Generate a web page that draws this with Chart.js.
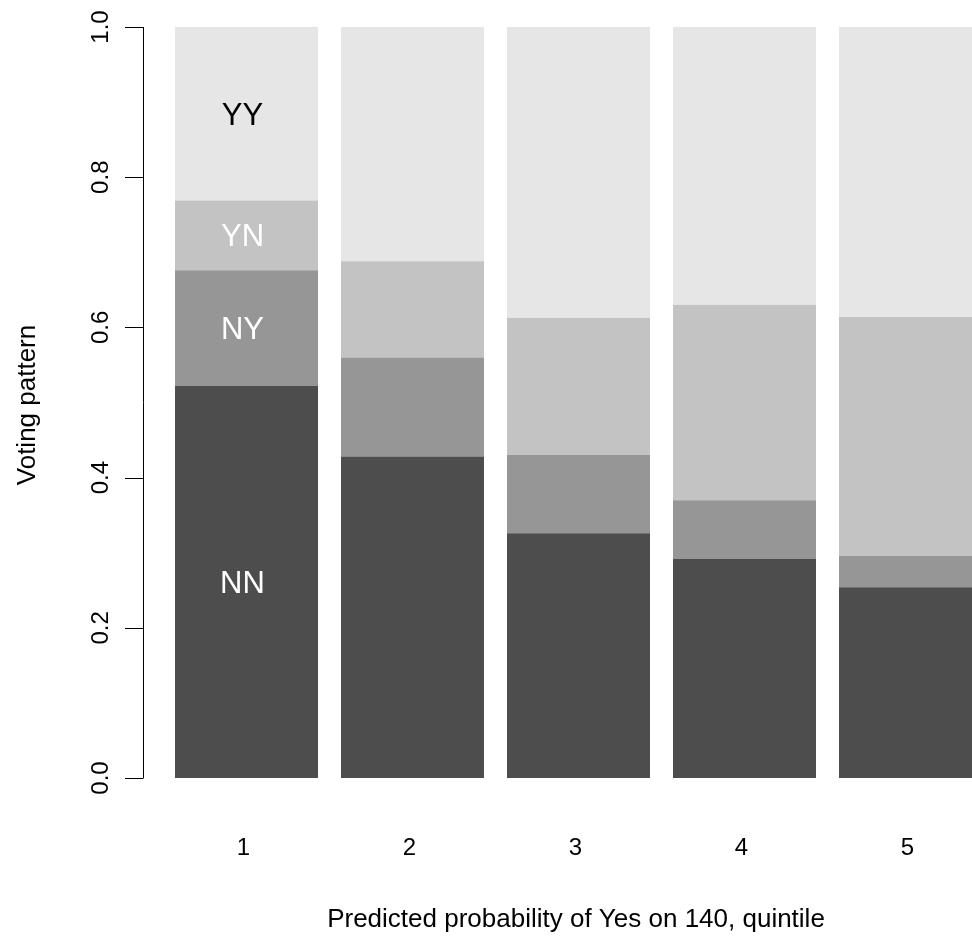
<!DOCTYPE html>
<html>
<head>
<meta charset="utf-8">
<title>Voting pattern by predicted probability quintile</title>
<script src="https://cdn.jsdelivr.net/npm/chart.js@4"></script>
<style>
  html, body { margin: 0; padding: 0; background: #fff; overflow: hidden; }
  #wrap { width: 972px; height: 937px; overflow: hidden; }
  canvas { display: block; }
</style>
</head>
<body>
<div id="wrap">
  <canvas id="chart" width="1000" height="937"></canvas>
</div>
<script>
/* ── Data ── */
const QUINTILES = ['1', '2', '3', '4', '5'];
const PATTERNS  = ['NN', 'NY', 'YN', 'YY'];

// share of each voting pattern within a quintile (stacked from the bottom)
const NN_SHARE = [0.522, 0.428, 0.326, 0.292, 0.254];
const NY_SHARE = [0.154, 0.132, 0.104, 0.078, 0.042];
const YN_SHARE = [0.093, 0.128, 0.183, 0.260, 0.318];
const YY_SHARE = [0.231, 0.312, 0.387, 0.370, 0.386];

const Y_TICKS = [0, 0.2, 0.4, 0.6, 0.8, 1.0];

/* ── Constants ── */
const FILLS       = ['#4d4d4d', '#969696', '#c3c3c3', '#e6e6e6'];
const LABEL_INK   = ['#ffffff', '#ffffff', '#ffffff', '#000000'];
const FONT_FAMILY = '"Liberation Sans", Arial, Helvetica, sans-serif';
const X_TITLE     = 'Predicted probability of Yes on 140, quintile';
const Y_TITLE     = 'Voting pattern';

const SERIES = [NN_SHARE, NY_SHARE, YN_SHARE, YY_SHARE];

/* ── R-style axes, titles and in-bar labels ── */
const baseGraphics = {
  id: 'baseGraphics',
  afterDatasetsDraw(chart) {
    const { ctx, chartArea, scales } = chart;
    const x = scales.x, y = scales.y;
    ctx.save();
    ctx.fillStyle = '#000';
    ctx.strokeStyle = '#000';
    ctx.lineWidth = 1;

    // y axis line + ticks
    const axX = 143.5;
    ctx.beginPath();
    ctx.moveTo(axX, y.getPixelForValue(0));
    ctx.lineTo(axX, y.getPixelForValue(1));
    Y_TICKS.forEach(v => {
      const py = Math.round(y.getPixelForValue(v)) + 0.5;
      ctx.moveTo(axX, py);
      ctx.lineTo(125, py);
    });
    ctx.stroke();

    // y tick labels, rotated
    ctx.font = '24px ' + FONT_FAMILY;
    ctx.textAlign = 'center';
    ctx.textBaseline = 'alphabetic';
    Y_TICKS.forEach(v => {
      ctx.save();
      ctx.translate(108, y.getPixelForValue(v));
      ctx.rotate(-Math.PI / 2);
      ctx.fillText(v.toFixed(1), 0, 0);
      ctx.restore();
    });

    // x category labels
    QUINTILES.forEach((q, i) => {
      ctx.fillText(q, x.getPixelForValue(i) - 3, 855);
    });

    // axis titles
    ctx.font = '26px ' + FONT_FAMILY;
    ctx.fillText(X_TITLE, 576, 927);
    ctx.save();
    ctx.translate(35, 405);
    ctx.rotate(-Math.PI / 2);
    ctx.fillText(Y_TITLE, 0, 0);
    ctx.restore();

    // pattern labels inside the first bar
    ctx.font = '31px ' + FONT_FAMILY;
    let base = 0;
    SERIES.forEach((s, k) => {
      const mid = base + s[0] / 2;
      base += s[0];
      ctx.fillStyle = LABEL_INK[k];
      ctx.fillText(PATTERNS[k], x.getPixelForValue(0) - 4, y.getPixelForValue(mid) + 11);
    });

    ctx.restore();
  },
};

/* ── Chart ── */
new Chart(document.getElementById('chart'), {
  type: 'bar',
  data: {
    labels: QUINTILES,
    datasets: SERIES.map((s, k) => ({
      label:           PATTERNS[k],
      data:            s,
      backgroundColor: FILLS[k],
      borderWidth:     0,
      borderSkipped:   false,
    })),
  },
  options: {
    responsive:         false,
    animation:          false,
    barPercentage:      0.8614,
    categoryPercentage: 1,
    layout: {
      padding: { left: 163.5, right: 6.5, top: 27, bottom: 159 },
    },
    plugins: {
      legend:  { display: false },
      tooltip: { enabled: false },
    },
    scales: {
      x: { stacked: true, display: false },
      y: { stacked: true, display: false, min: 0, max: 1 },
    },
  },
  plugins: [baseGraphics],
});
</script>
</body>
</html>
